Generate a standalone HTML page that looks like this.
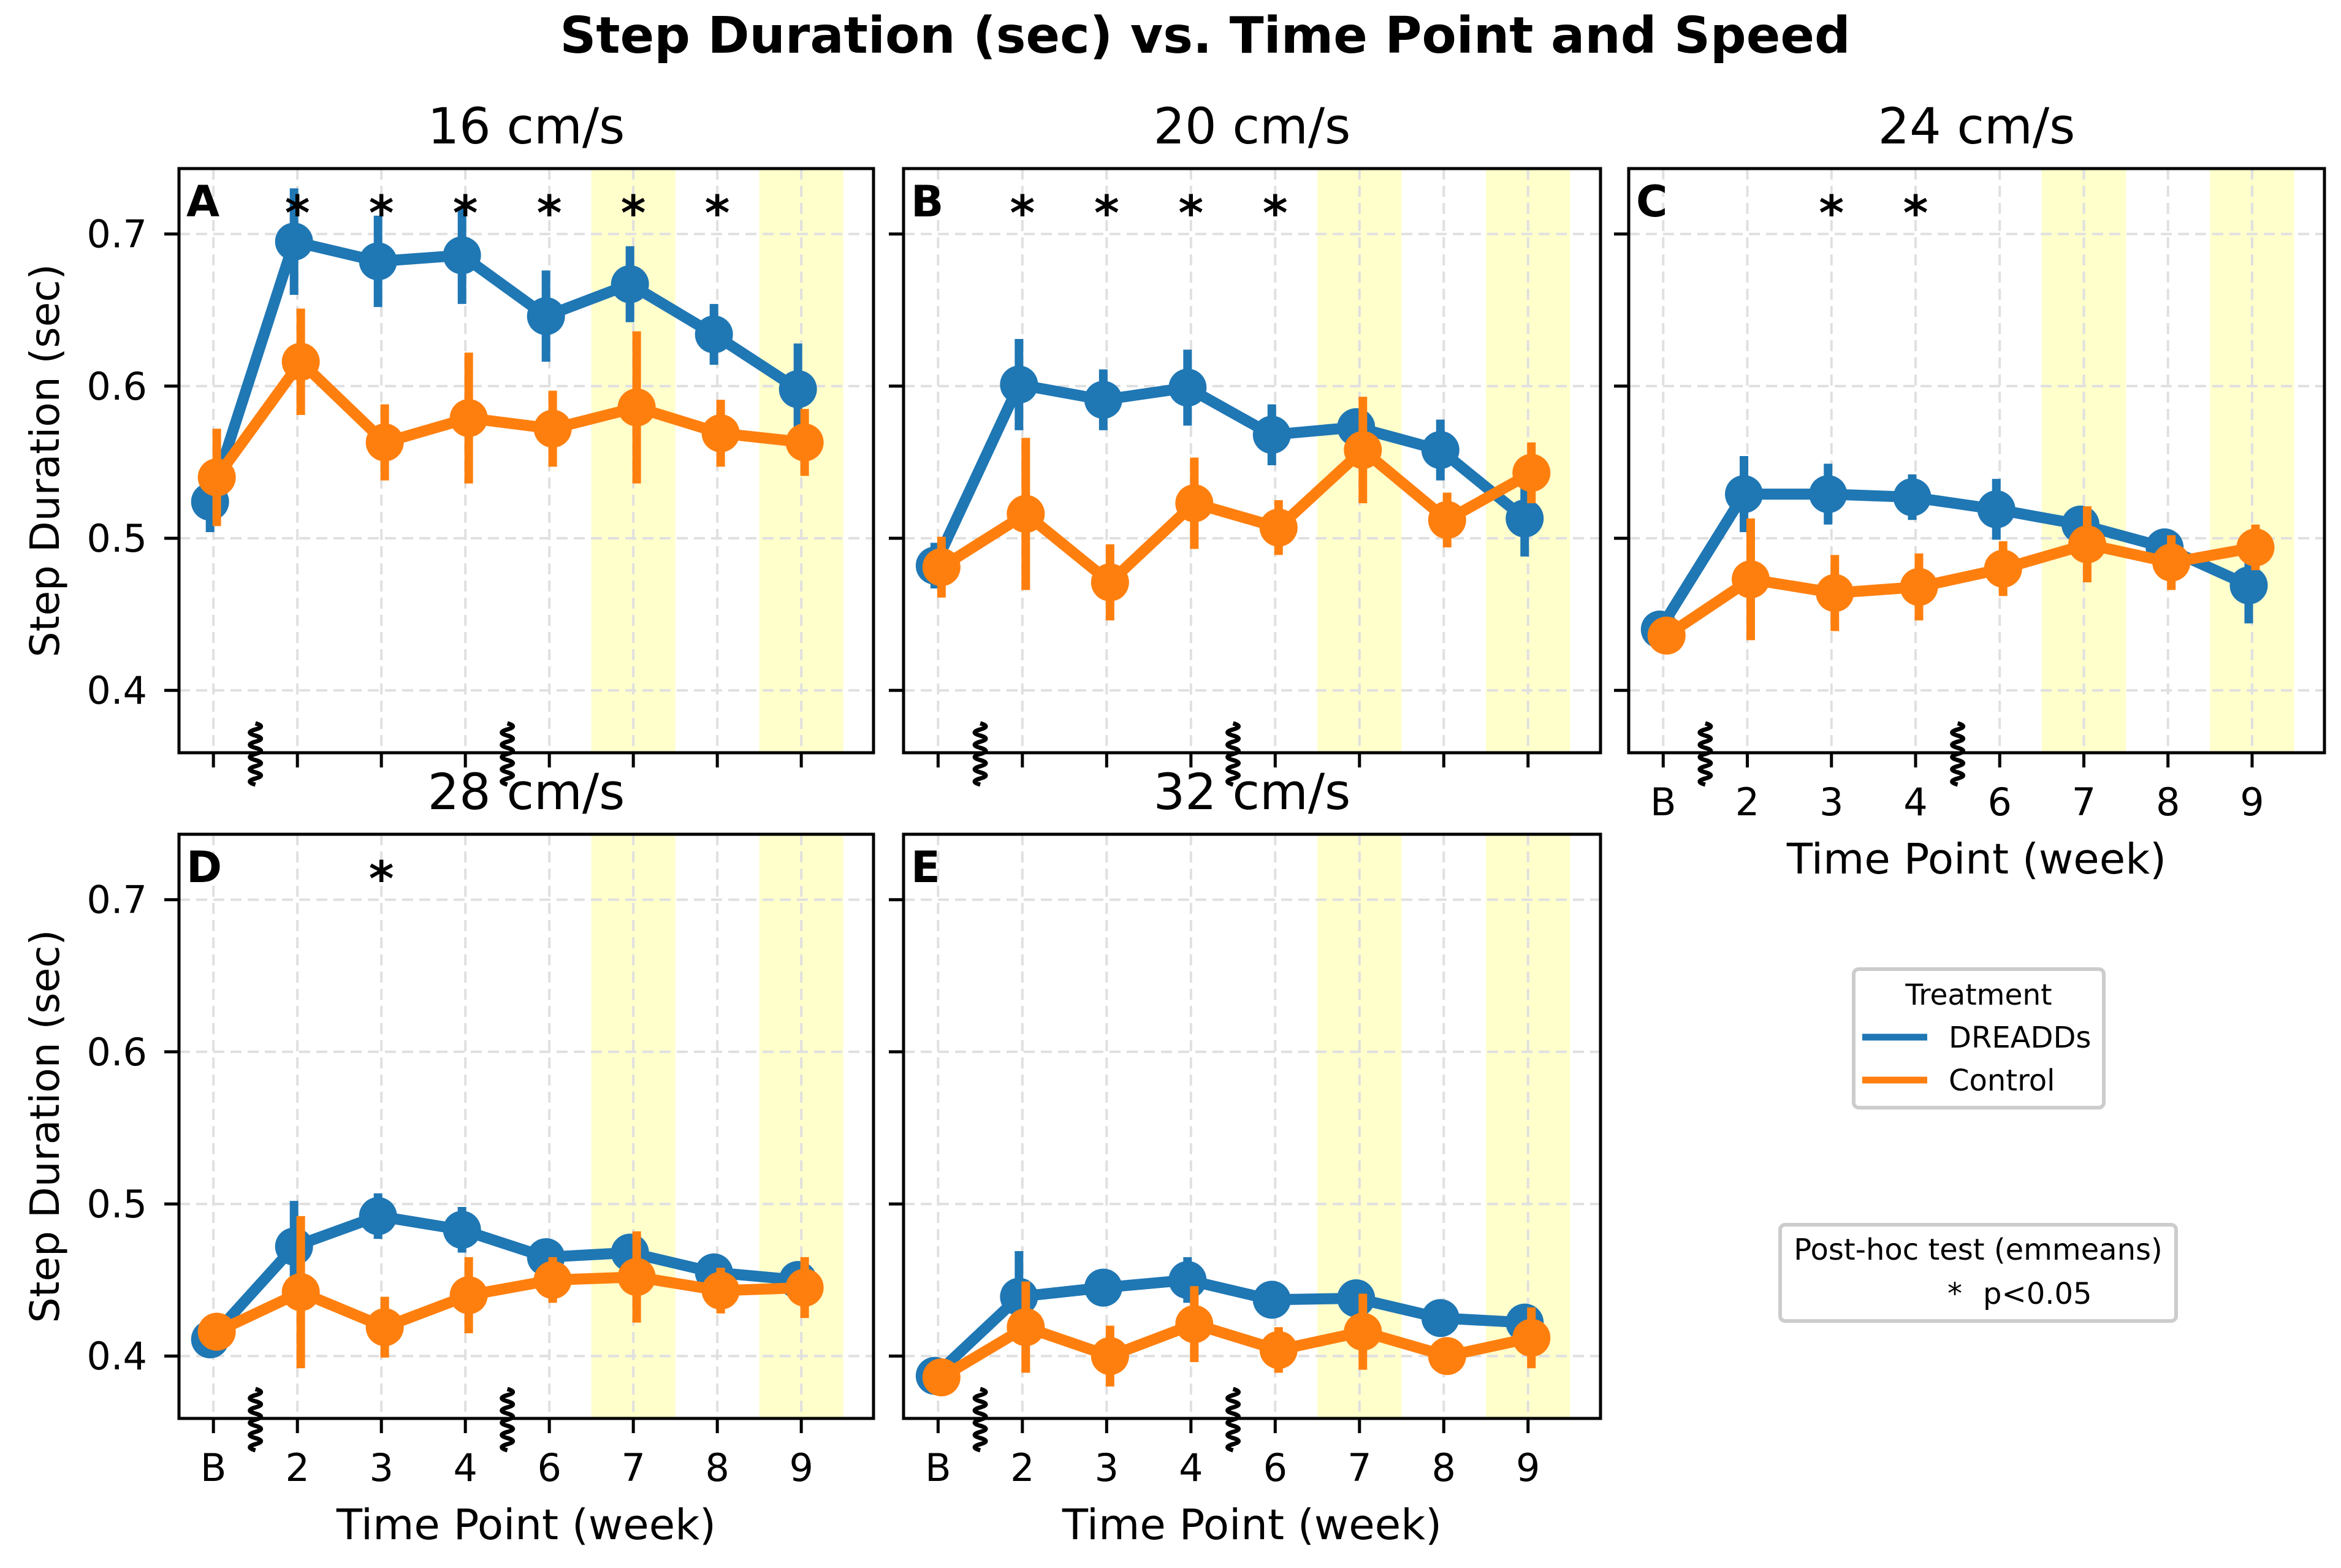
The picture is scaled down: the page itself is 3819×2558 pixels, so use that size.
<!DOCTYPE html>
<html><head><meta charset="utf-8"><style>
html,body{margin:0;padding:0;background:#fff;}
svg{display:block;font-family:"DejaVu Sans","Liberation Sans",sans-serif;}
</style></head><body>
<svg id="fig" width="3819" height="2558" viewBox="0 0 3819 2558" xmlns="http://www.w3.org/2000/svg">
<rect width="3819" height="2558" fill="#fff"/>
<text x="1966" y="86" font-size="82" font-weight="bold" text-anchor="middle">Step Duration (sec) vs. Time Point and Speed</text>
<g id="panels"></g>
<g>
<rect x="3024" y="1581" width="408" height="226" rx="8" fill="#fff" stroke="#cccccc" stroke-width="6"/>
<text x="3228" y="1639" font-size="47" text-anchor="middle">Treatment</text>
<line x1="3038" y1="1692" x2="3144" y2="1692" stroke="#1f77b4" stroke-width="11"/>
<text x="3179" y="1709" font-size="48">DREADDs</text>
<line x1="3038" y1="1762" x2="3144" y2="1762" stroke="#ff7f0e" stroke-width="11"/>
<text x="3179" y="1779" font-size="48">Control</text>
</g>
<g>
<rect x="2904" y="1998" width="646" height="157" rx="8" fill="#fff" stroke="#cccccc" stroke-width="6"/>
<text x="3227" y="2055" font-size="48" text-anchor="middle">Post-hoc test (emmeans)</text>
<text x="3177" y="2127" font-size="48">*</text>
<text x="3235" y="2127" font-size="48">p&lt;0.05</text>
</g>
</svg>
<script>
const categories = ["B","2","3","4","6","7","8","9"];
const yTicks = [0.4,0.5,0.6,0.7];
const panelTitles = ["16 cm/s","20 cm/s","24 cm/s","28 cm/s","32 cm/s"];
const panelLetters = ["A","B","C","D","E"];
const dreadds16 = [0.524,0.695,0.682,0.686,0.646,0.667,0.634,0.598];
const dreaddsErr16 = [0.02,0.035,0.03,0.032,0.03,0.025,0.02,0.03];
const control16 = [0.540,0.616,0.563,0.579,0.572,0.586,0.569,0.563];
const controlErr16 = [0.032,0.035,0.025,0.043,0.025,0.05,0.022,0.022];
const dreadds20 = [0.482,0.601,0.591,0.599,0.568,0.573,0.558,0.513];
const dreaddsErr20 = [0.015,0.03,0.02,0.025,0.02,0.01,0.02,0.025];
const control20 = [0.481,0.516,0.471,0.523,0.507,0.558,0.512,0.543];
const controlErr20 = [0.02,0.05,0.025,0.03,0.018,0.035,0.018,0.02];
const dreadds24 = [0.440,0.529,0.529,0.527,0.519,0.509,0.494,0.469];
const dreaddsErr24 = [0.01,0.025,0.02,0.015,0.02,0.01,0.01,0.025];
const control24 = [0.436,0.473,0.464,0.468,0.480,0.496,0.484,0.494];
const controlErr24 = [0.01,0.04,0.025,0.022,0.018,0.025,0.018,0.015];
const dreadds28 = [0.411,0.472,0.492,0.483,0.465,0.468,0.455,0.450];
const dreaddsErr28 = [0.01,0.03,0.015,0.015,0.01,0.01,0.01,0.01];
const control28 = [0.416,0.442,0.419,0.440,0.450,0.452,0.443,0.445];
const controlErr28 = [0.01,0.05,0.02,0.025,0.015,0.03,0.015,0.02];
const dreadds32 = [0.387,0.439,0.445,0.450,0.437,0.438,0.425,0.422];
const dreaddsErr32 = [0.005,0.03,0.012,0.015,0.01,0.008,0.008,0.012];
const control32 = [0.386,0.419,0.400,0.421,0.404,0.416,0.400,0.412];
const controlErr32 = [0.005,0.03,0.02,0.025,0.015,0.025,0.01,0.02];
const sig16 = [1,2,3,4,5,6];
const sig20 = [1,2,3,4];
const sig24 = [2,3];
const sig28 = [2];
const sig32 = [];
const highlightCats = [5,7];
const breakCats = [0.5,3.5];

const NS="http://www.w3.org/2000/svg";
const root=document.getElementById('panels');
function mk(tag,attrs,parent){const e=document.createElementNS(NS,tag);for(const k in attrs)e.setAttribute(k,attrs[k]);(parent||root).appendChild(e);return e;}
const panels=[
 {x0:292,x1:1425,y0:275,y1:1228,d:dreadds16,de:dreaddsErr16,c:control16,ce:controlErr16,s:sig16,yl:true,xl:false},
 {x0:1474,x1:2611,y0:275,y1:1228,d:dreadds20,de:dreaddsErr20,c:control20,ce:controlErr20,s:sig20,yl:false,xl:false},
 {x0:2657,x1:3792,y0:275,y1:1228,d:dreadds24,de:dreaddsErr24,c:control24,ce:controlErr24,s:sig24,yl:false,xl:true},
 {x0:292,x1:1425,y0:1361,y1:2314,d:dreadds28,de:dreaddsErr28,c:control28,ce:controlErr28,s:sig28,yl:true,xl:true},
 {x0:1474,x1:2611,y0:1361,y1:2314,d:dreadds32,de:dreaddsErr32,c:control32,ce:controlErr32,s:sig32,yl:false,xl:true}
];
const yMin=0.3590,yMax=0.7430;
panels.forEach((p,pi)=>{
 const g=mk('g',{});
 
 
 const step=(p.x1-p.x0)/8.27;
 const xs=i=>p.x0+step*(i+0.41);
 const ys=v=>p.y1-(v-yMin)/(yMax-yMin)*(p.y1-p.y0);
 highlightCats.forEach(c=>{const r=mk('rect',{x:xs(c-0.5),y:p.y0,width:step,height:p.y1-p.y0,fill:'#ffffcc'},g);
  
  });
 categories.forEach((c,i)=>{mk('line',{x1:xs(i),x2:xs(i),y1:p.y0,y2:p.y1,stroke:'#e0e0e0','stroke-width':4,'stroke-dasharray':'18 10'},g);});
 yTicks.forEach(v=>{mk('line',{x1:p.x0,x2:p.x1,y1:ys(v),y2:ys(v),stroke:'#e0e0e0','stroke-width':4,'stroke-dasharray':'18 10'},g);});
 [[p.d,p.de,'#1f77b4',-0.04,'dreadds'],[p.c,p.ce,'#ff7f0e',0.04,'control']].forEach(([vals,errs,col,off,nm])=>{
  const sg=mk('g',{},g);
  
  
  const pts=vals.map((v,i)=>xs(i+off)+','+ys(v)).join(' ');
  mk('polyline',{points:pts,fill:'none',stroke:col,'stroke-width':18,'stroke-linejoin':'round'},sg);
  vals.forEach((v,i)=>{
   const eb=mk('line',{x1:xs(i+off),x2:xs(i+off),y1:ys(v-errs[i]),y2:ys(v+errs[i]),stroke:col,'stroke-width':14},sg);
   
   
   const c=mk('circle',{cx:xs(i+off),cy:ys(v),r:31,fill:col},sg);
   
   
  });
 });
 p.s.forEach(i=>{const t=mk('text',{x:xs(i),y:p.y0+100,'font-size':78,'font-weight':'bold','text-anchor':'middle'},g);t.textContent='*';
  
  });
 mk('rect',{x:p.x0,y:p.y0,width:p.x1-p.x0,height:p.y1-p.y0,fill:'none',stroke:'#000','stroke-width':5},g);
 const L=mk('text',{x:p.x0+12,y:p.y0+78,'font-size':70,'font-weight':'bold'},g);L.textContent=panelLetters[pi];
 
 
 const T=mk('text',{x:(p.x0+p.x1)/2,y:p.y0-41,'font-size':81,'text-anchor':'middle'},g);T.textContent=panelTitles[pi];
 
 
 yTicks.forEach(v=>{mk('line',{x1:p.x0-24,x2:p.x0,y1:ys(v),y2:ys(v),stroke:'#000','stroke-width':5},g);
  if(p.yl){const t=mk('text',{x:p.x0-52,y:ys(v)+22,'font-size':62,'text-anchor':'end'},g);t.textContent=v.toFixed(1);
   
   }});
 categories.forEach((c,i)=>{mk('line',{x1:xs(i),x2:xs(i),y1:p.y1,y2:p.y1+24,stroke:'#000','stroke-width':5},g);
  if(p.xl){const t=mk('text',{x:xs(i),y:p.y1+102,'font-size':62,'text-anchor':'middle'},g);t.textContent=c;
   
   }});
 breakCats.forEach(b=>{const x=xs(b);let d='M'+x+' '+(p.y1-48);
  for(let k=0;k<10;k++){d+=' q'+(k%2?-18:18)+' 5 0 10';}
  const w=mk('path',{d:d,fill:'none',stroke:'#000','stroke-width':7},g);
  
  });
 if(p.yl){const t=mk('text',{x:0,y:0,'font-size':66,'text-anchor':'middle',transform:'translate(96,'+((p.y0+p.y1)/2)+') rotate(-90)'},g);t.textContent='Step Duration (sec)';
  
  }
 if(p.xl){const t=mk('text',{x:(p.x0+p.x1)/2,y:p.y1+197,'font-size':69,'text-anchor':'middle'},g);t.textContent='Time Point (week)';
  
  }
});
</script>
</body></html>
